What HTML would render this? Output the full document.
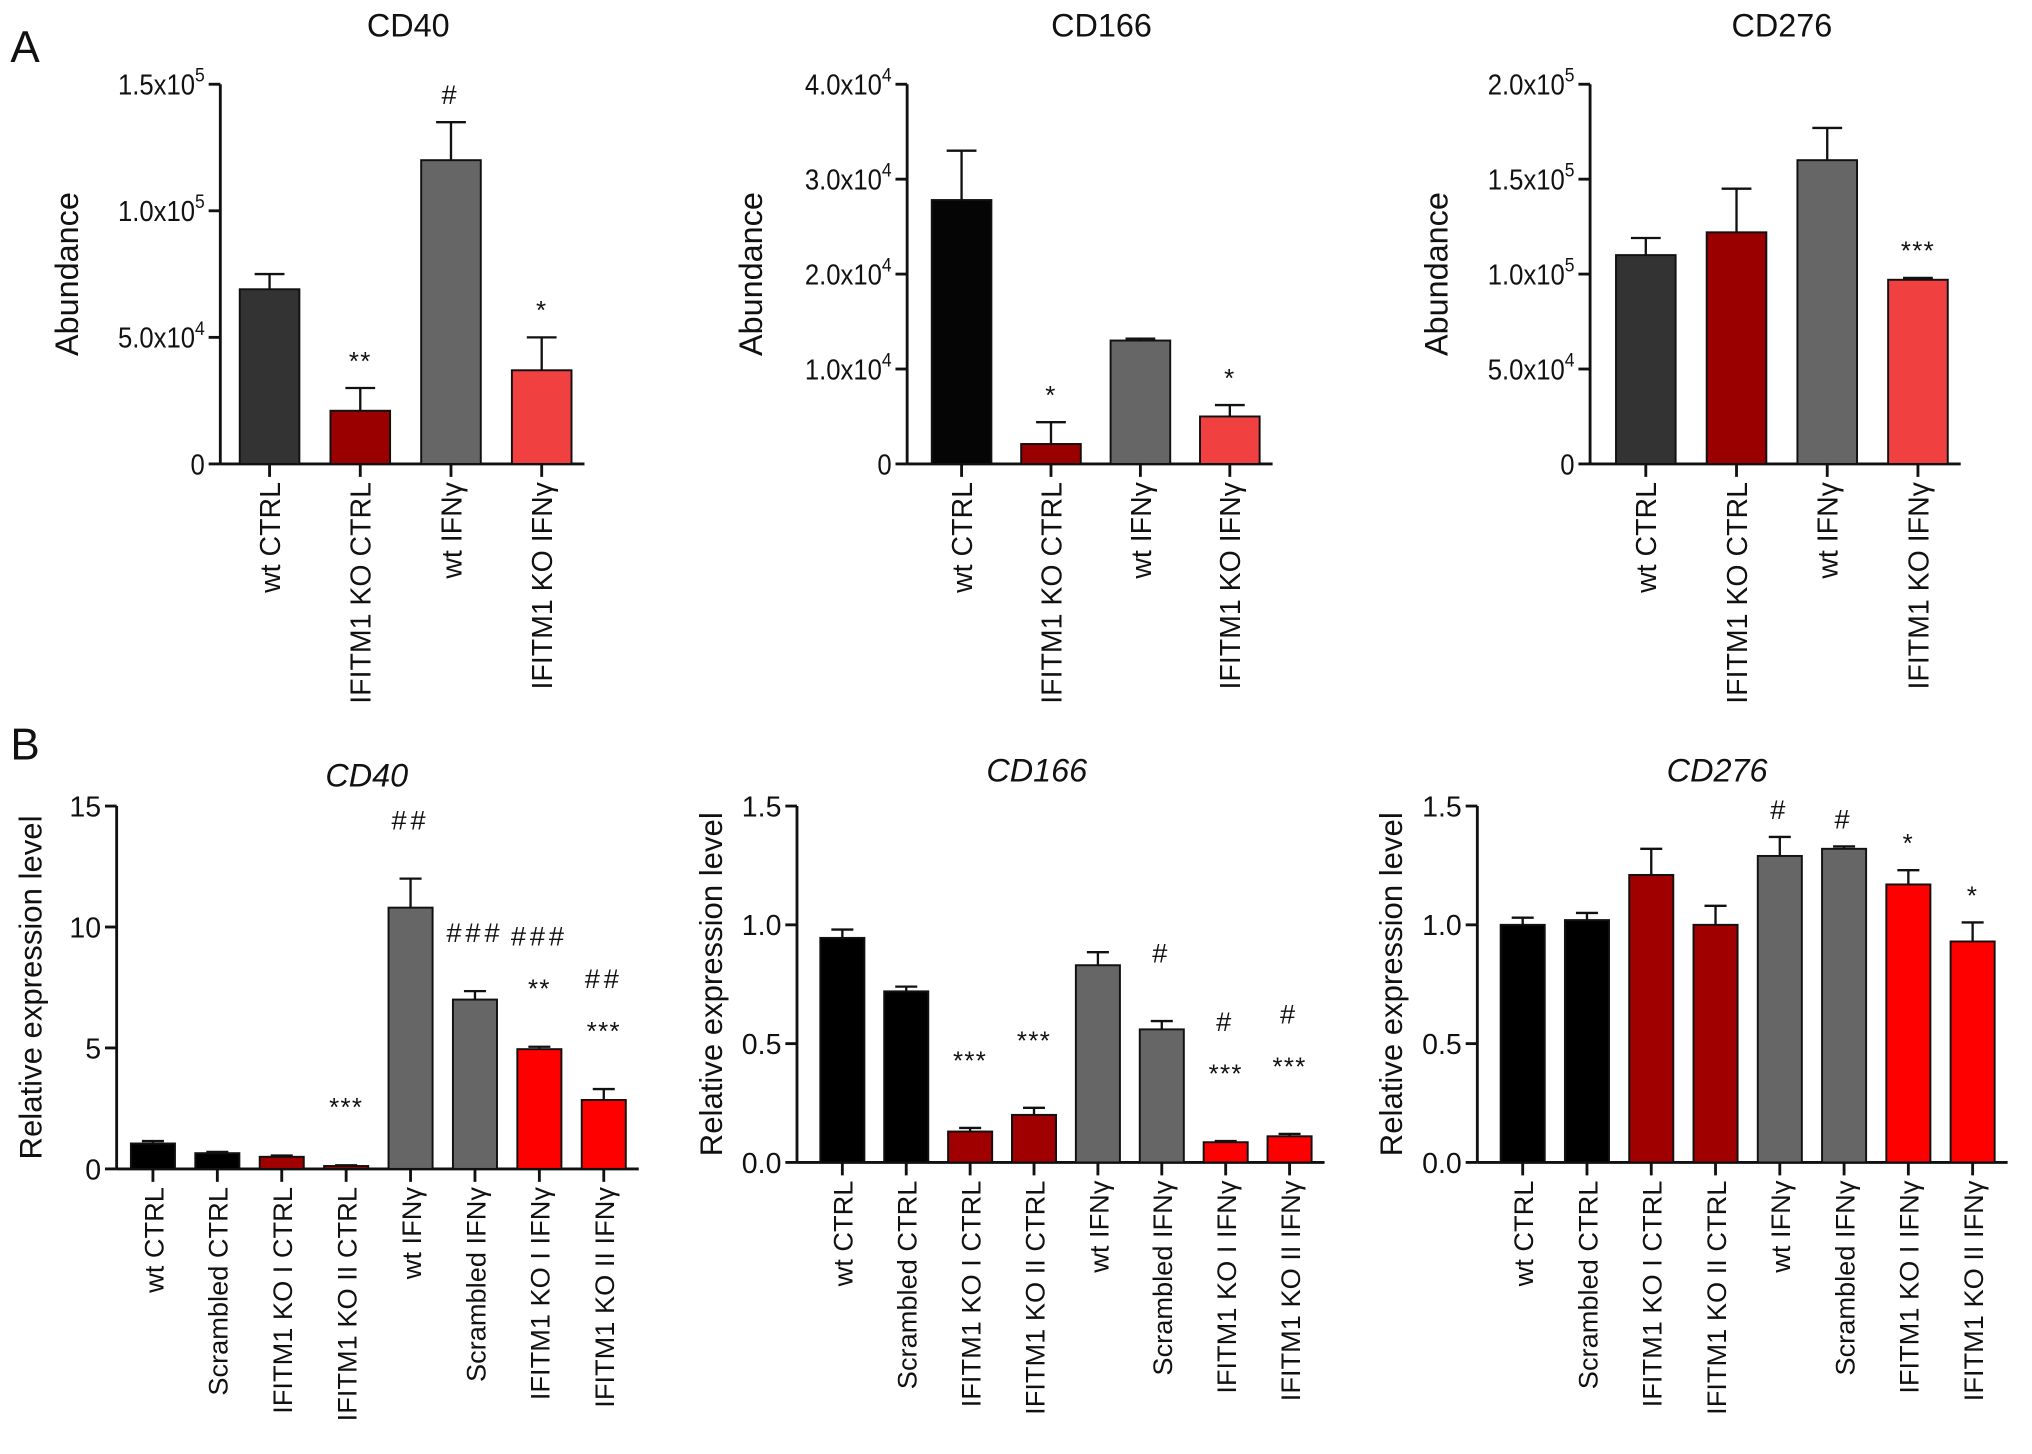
<!DOCTYPE html>
<html><head><meta charset="utf-8"><style>
html,body{margin:0;padding:0;background:#fff}
svg{display:block}
text{font-family:"Liberation Sans",Arial,sans-serif;fill:#111}
</style></head><body>
<svg id="fig" width="2032" height="1454" viewBox="0 0 1568 1122" xmlns="http://www.w3.org/2000/svg">
<text x="8" y="48" font-size="34">A</text>
<text x="8" y="586" font-size="34">B</text>
</svg>
<script>
// Panel A data
const catsA = ["wt CTRL","IFITM1 KO CTRL","wt IFNγ","IFITM1 KO IFNγ"];
const cd40A = [69000,21000,120000,37000];
const cd40AErr = [75000,30000,135000,50000];
const cd40AAnn = [[],["**"],["#"],["*"]];
const cd166A = [27800,2100,13000,5000];
const cd166AErr = [33000,4400,13200,6200];
const cd166AAnn = [[],["*"],[],["*"]];
const cd276A = [110000,122000,160000,97000];
const cd276AErr = [119000,145000,177000,98000];
const cd276AAnn = [[],[],[],["***"]];
const ticksA40 = [0,50000,100000,150000];
const ticksA166 = [0,10000,20000,30000,40000];
const ticksA276 = [0,50000,100000,150000,200000];
// Panel B data
const catsB = ["wt CTRL","Scrambled CTRL","IFITM1 KO I CTRL","IFITM1 KO II CTRL","wt IFNγ","Scrambled IFNγ","IFITM1 KO I IFNγ","IFITM1 KO II IFNγ"];
const cd40B = [1.05,0.65,0.5,0.12,10.8,7.0,4.95,2.85];
const cd40BErr = [1.15,0.7,0.55,0.15,12,7.35,5.05,3.3];
const cd40BAnn = [[],[],[],["***"],["##"],["###"],["###","**"],["##","***"]];
const cd166B = [0.945,0.72,0.13,0.2,0.83,0.56,0.085,0.11];
const cd166BErr = [0.98,0.74,0.145,0.23,0.885,0.595,0.09,0.12];
const cd166BAnn = [[],[],["***"],["***"],[],["#"],["#","***"],["#","***"]];
const cd276B = [1.0,1.02,1.21,1.0,1.29,1.32,1.17,0.93];
const cd276BErr = [1.03,1.05,1.32,1.08,1.37,1.33,1.23,1.01];
const cd276BAnn = [[],[],[],[],["#"],["#"],["*"],["*"]];
const ticksB40 = [0,5,10,15];
const ticksB15 = [0,0.5,1.0,1.5];

const svg = document.getElementById('fig');
const NS = "http://www.w3.org/2000/svg";
function mk(tag, attrs, parent){const e=document.createElementNS(NS,tag);for(const k in attrs)e.setAttribute(k,attrs[k]);(parent||svg).appendChild(e);return e;}

function sci(g,x,y,v){
  const t=mk('text',{x:0,y:0,'font-size':22,'text-anchor':'end',transform:`translate(${x},${y}) scale(0.9,1)`},g);
  
  
  if(v===0){t.textContent='0';return;}
  const e=Math.floor(Math.log10(v));const m=v/Math.pow(10,e);
  const a=document.createElementNS(NS,'tspan');a.textContent=m.toFixed(1)+'x10';t.appendChild(a);
  const b=document.createElementNS(NS,'tspan');b.setAttribute('dy','-10');b.setAttribute('font-size','15');b.textContent=e;t.appendChild(b);
}

function chart(o){
  const g=mk('g',{});
  
  
  const y=v=>o.y0-(v-o.min)/(o.max-o.min)*(o.y0-o.y1);
  const n=o.vals.length;
  const x=i=>o.xs+o.step*i;
  const ya=mk('line',{x1:o.ax,y1:o.y1,x2:o.ax,y2:o.y0,stroke:'#111','stroke-width':2.2},g);
  
  const xa=mk('line',{x1:o.ax,y1:o.y0,x2:x(n-1)+o.bw/2+10,y2:o.y0,stroke:'#111','stroke-width':2.2},g);
  
  o.ticks.forEach(t=>{
    mk('line',{x1:o.ax-9,x2:o.ax,y1:y(t),y2:y(t),stroke:'#111','stroke-width':2.2},g);
    if(o.sci){sci(g,o.ax-12,y(t)+8,t);}
    else{const tl=mk('text',{x:o.ax-12,y:y(t)+8,'font-size':22,'text-anchor':'end'},g);
      
      tl.textContent=o.fmt?o.fmt(t):t;}
  });
  o.vals.forEach((v,i)=>{
    const cx=x(i);
    const r=mk('rect',{x:cx-o.bw/2,y:y(v),width:o.bw,height:o.y0-y(v),fill:o.colors[i],stroke:'#111','stroke-width':1.5},g);
    
    
    const ey=y(o.err[i]);
    mk('line',{x1:cx,x2:cx,y1:y(v),y2:ey,stroke:'#111','stroke-width':1.8},g);
    mk('line',{x1:cx-o.bw/4,x2:cx+o.bw/4,y1:ey,y2:ey,stroke:'#111','stroke-width':1.8},g);
    mk('line',{x1:cx,x2:cx,y1:o.y0,y2:o.y0+10,stroke:'#111','stroke-width':2.2},g);
    const cl=mk('text',{x:0,y:0,'font-size':o.cfs,'text-anchor':'end',transform:`translate(${cx+8},${o.y0+14}) rotate(-90)`},g);
    
    cl.textContent=o.cats[i];
    let ay=ey-o.annGap;
    o.ann[i].slice().reverse().forEach((a,k)=>{
      const at=mk('text',{x:cx,y:ay,'font-size':a[0]=='#'?21:20,'text-anchor':'middle','letter-spacing':a[0]=='#'?3:1},g);
      
      at.textContent=a;ay-=o.annStep;
    });
  });
  const tt=mk('text',{x:o.tx,y:o.ty,'font-size':25,'text-anchor':'middle','font-style':o.italic?'italic':'normal'},g);
  tt.textContent=o.title;
  const yl=mk('text',{x:0,y:0,'font-size':o.yfs,'text-anchor':'middle',transform:`translate(${o.ylx},${(o.y0+o.y1)/2}) rotate(-90)`},g);
  yl.textContent=o.ylabel;
}
const colA=['#333333','#9b0000','#666666','#f04040'];
const colA2=['#050505','#9b0000','#666666','#f04040'];
const colB=['#000','#000','#a00000','#a00000','#666666','#666666','#ff0000','#ff0000'];
chart({name:'chart-cd40-abundance',vals:cd40A,err:cd40AErr,ann:cd40AAnn,cats:catsA,colors:colA,min:0,max:150000,y0:358,y1:65,ax:170,xs:208,step:70,bw:46,ticks:ticksA40,sci:true,title:'CD40',tx:315,ty:28,ylabel:'Abundance',ylx:60,yfs:25,cfs:22,annGap:14,annStep:30});
chart({name:'chart-cd166-abundance',vals:cd166A,err:cd166AErr,ann:cd166AAnn,cats:catsA,colors:colA2,min:0,max:40000,y0:358,y1:65,ax:700,xs:742,step:69,bw:46,ticks:ticksA166,sci:true,title:'CD166',tx:850,ty:28,ylabel:'Abundance',ylx:588,yfs:25,cfs:22,annGap:14,annStep:30});
chart({name:'chart-cd276-abundance',vals:cd276A,err:cd276AErr,ann:cd276AAnn,cats:catsA,colors:colA,min:0,max:200000,y0:358,y1:65,ax:1227,xs:1270,step:70,bw:46,ticks:ticksA276,sci:true,title:'CD276',tx:1375,ty:28,ylabel:'Abundance',ylx:1117,yfs:25,cfs:22,annGap:14,annStep:30});
chart({name:'chart-cd40-expression',vals:cd40B,err:cd40BErr,ann:cd40BAnn,cats:catsB,colors:colB,min:0,max:15,y0:902,y1:622,ax:90,xs:118,step:49.7,bw:34,ticks:ticksB40,title:'CD40',tx:283,ty:607,italic:true,ylabel:'Relative expression level',ylx:32,yfs:24,cfs:21,annGap:38,annStep:40});
chart({name:'chart-cd166-expression',vals:cd166B,err:cd166BErr,ann:cd166BAnn,cats:catsB,colors:colB,min:0,max:1.5,y0:897,y1:622,ax:615,xs:650,step:49.3,bw:34,ticks:ticksB15,fmt:t=>t.toFixed(1),title:'CD166',tx:800,ty:603,italic:true,ylabel:'Relative expression level',ylx:557,yfs:24,cfs:21,annGap:45,annStep:40});
chart({name:'chart-cd276-expression',vals:cd276B,err:cd276BErr,ann:cd276BAnn,cats:catsB,colors:colB,min:0,max:1.5,y0:897,y1:622,ax:1140,xs:1175,step:49.6,bw:34,ticks:ticksB15,fmt:t=>t.toFixed(1),title:'CD276',tx:1325,ty:603,italic:true,ylabel:'Relative expression level',ylx:1082,yfs:24,cfs:21,annGap:14,annStep:40});
</script>
</body></html>
